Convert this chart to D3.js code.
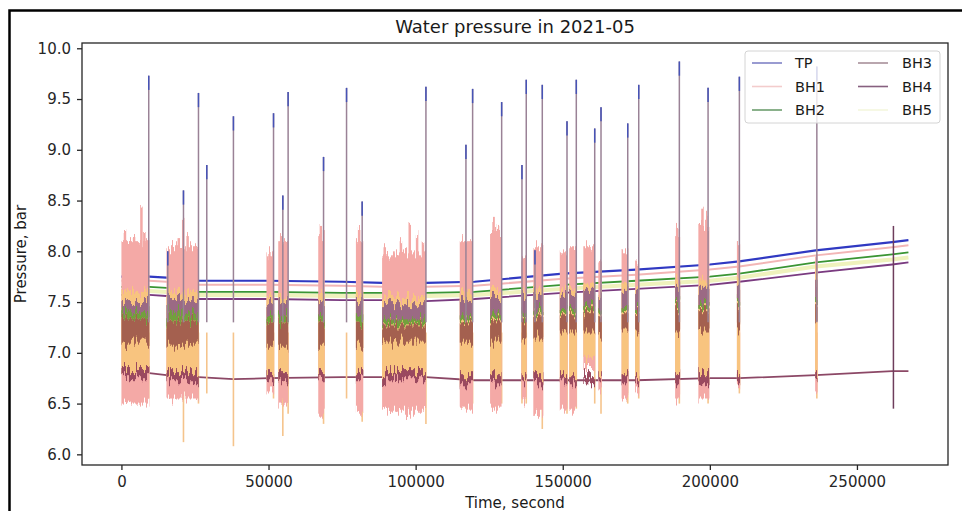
<!DOCTYPE html>
<html>
<head>
<meta charset="utf-8">
<title>Water pressure in 2021-05</title>
<style>
  body { margin: 0; background: #fff; }
  text { font-family: "DejaVu Sans", sans-serif; fill: #1a1a1a; }
  .axis path, .axis line { stroke: #262626; stroke-width: 1.3px; }
  .axis text { font-size: 15px; fill: #262626; }
</style>
</head>
<body>
<div id="chart"></div>
<script src="https://cdn.jsdelivr.net/npm/d3@7"></script>
<script>
// steady-state levels (seconds, bar)
const baseT   = [0, 9500, 15300, 26300, 38000, 50000, 75000, 88600, 103500, 120000, 150000, 175000, 200000, 210000, 236000, 262000, 267500];
const tpBase  = [7.75, 7.75, 7.74, 7.71, 7.71, 7.71, 7.70, 7.69, 7.69, 7.70, 7.78, 7.82, 7.87, 7.90, 8.01, 8.09, 8.11];
const bh1Base = [7.71, 7.71, 7.70, 7.67, 7.67, 7.67, 7.66, 7.65, 7.65, 7.66, 7.73, 7.77, 7.82, 7.85, 7.96, 8.04, 8.06];
const bh2Base = [7.65, 7.65, 7.64, 7.60, 7.60, 7.60, 7.59, 7.59, 7.59, 7.60, 7.67, 7.71, 7.75, 7.78, 7.89, 7.97, 7.99];
const bh5Base = [7.61, 7.61, 7.60, 7.57, 7.57, 7.57, 7.56, 7.56, 7.56, 7.57, 7.63, 7.67, 7.71, 7.74, 7.85, 7.92, 7.94];
const bh4Base = [7.57, 7.57, 7.56, 7.53, 7.53, 7.53, 7.52, 7.52, 7.51, 7.53, 7.59, 7.63, 7.67, 7.70, 7.79, 7.87, 7.89];
const bh3Base = [6.81, 6.80, 6.78, 6.76, 6.74, 6.75, 6.76, 6.76, 6.76, 6.73, 6.73, 6.73, 6.75, 6.75, 6.78, 6.82, 6.82];

// pumping bursts: start / end time and the band each sensor swings through
const burstStart = [0, 15300, 49300, 53300, 66900, 79700, 88600, 115000, 125300, 136000, 140000, 149000, 152200, 157000, 162100, 170000, 174600, 188200, 196100, 209200, 235800];
const burstEnd   = [9500, 26300, 51900, 56700, 69100, 82200, 103500, 119500, 129200, 137700, 143400, 151600, 154800, 161000, 163300, 172300, 176000, 189900, 199850, 210300, 236600];
const bh1Hi = [8.1, 8.05, 8.0, 8.1, 8.15, 8.1, 7.98, 8.1, 8.2, 7.95, 8.05, 7.98, 8.05, 8.05, 7.9, 8.0, 7.85, 8.15, 8.25, 8.1, 7.95];
const bh1Lo = [6.5, 6.55, 6.6, 6.5, 6.42, 6.42, 6.42, 6.45, 6.45, 6.55, 6.38, 6.45, 6.45, 6.85, 6.62, 6.55, 6.62, 6.55, 6.55, 6.68, 6.62];
const bh5Hi = [7.62, 7.6, 7.55, 7.55, 7.6, 7.6, 7.55, 7.6, 7.62, 7.62, 7.65, 7.65, 7.65, 7.68, 7.6, 7.7, 7.65, 7.72, 7.72, 7.75, 7.85];
const bh5Lo = [6.78, 6.75, 6.72, 6.72, 6.74, 6.74, 6.78, 6.72, 6.72, 6.72, 6.7, 6.72, 6.72, 6.95, 6.72, 6.76, 6.72, 6.72, 6.72, 6.72, 6.76];
const tpHi  = [7.34, 7.32, 7.3, 7.3, 7.3, 7.3, 7.28, 7.3, 7.32, 7.34, 7.36, 7.38, 7.38, 7.4, 7.36, 7.4, 7.4, 7.42, 7.42, 7.44, 7.5];
const tpLo  = [7.1, 7.08, 7.06, 7.06, 7.06, 7.06, 7.12, 7.08, 7.1, 7.14, 7.17, 7.19, 7.19, 7.21, 7.17, 7.21, 7.21, 7.21, 7.21, 7.24, 7.3];
const bh4Hi = [7.52, 7.52, 7.5, 7.5, 7.52, 7.52, 7.48, 7.52, 7.54, 7.57, 7.57, 7.6, 7.6, 7.62, 7.57, 7.62, 7.62, 7.64, 7.64, 7.67, 7.72];
const bh4Lo = [7.34, 7.34, 7.32, 7.32, 7.32, 7.32, 7.31, 7.33, 7.35, 7.37, 7.39, 7.41, 7.41, 7.43, 7.39, 7.43, 7.43, 7.45, 7.45, 7.47, 7.52];
const bh2Hi = [7.41, 7.39, 7.37, 7.37, 7.37, 7.37, 7.33, 7.37, 7.39, 7.41, 7.43, 7.45, 7.45, 7.47, 7.43, 7.47, 7.47, 7.49, 7.49, 7.51, 7.57];
const bh2Lo = [7.34, 7.32, 7.3, 7.3, 7.3, 7.3, 7.29, 7.32, 7.34, 7.36, 7.38, 7.4, 7.4, 7.42, 7.38, 7.42, 7.42, 7.44, 7.44, 7.46, 7.52];
const bh3Hi = [6.85, 6.82, 6.8, 6.81, 6.81, 6.8, 6.82, 6.79, 6.79, 6.77, 6.78, 6.77, 6.77, 6.78, 6.76, 6.78, 6.76, 6.8, 6.81, 6.8, 6.81];
const bh3Lo = [6.77, 6.73, 6.71, 6.72, 6.72, 6.72, 6.73, 6.7, 6.7, 6.71, 6.69, 6.7, 6.7, 6.7, 6.71, 6.7, 6.71, 6.7, 6.71, 6.72, 6.75];

// short pink peaks sticking out of the bursts
const peakT = [1200, 2600, 4300, 6800, 7800, 17500, 19500, 21000, 22500, 24200, 50300, 54300, 67800, 80800, 89500, 92500, 95000, 98000, 100500, 102500, 126500, 128000, 188900, 197500, 198800];
const peakV = [8.2, 8.1, 8.15, 8.45, 8.2, 8.05, 8.13, 8.3, 8.15, 8.02, 8.05, 8.15, 8.25, 8.22, 8.05, 8.0, 8.1, 8.3, 8.15, 8.1, 8.3, 8.25, 8.25, 8.4, 8.35];

// pressure transients: time, top and bottom of the vertical excursion
const spikeT   = [9280, 15750, 21090, 26190, 29010, 38070, 51700, 54860, 56660, 68700, 76520, 81830, 103500, 117100, 119370, 129240, 136140, 137600, 140560, 143050, 151450, 154610, 160870, 163010, 172090, 175830, 189640, 199400, 210040, 236370];
const spikeTop = [9.73, 8.0, 8.6, 9.56, 8.85, 9.33, 9.36, 8.55, 9.57, 8.93, 9.61, 8.49, 9.62, 9.05, 9.6, 9.47, 8.85, 9.69, 8.01, 9.64, 9.28, 9.69, 9.21, 9.42, 9.26, 9.64, 9.87, 9.61, 9.72, 9.82];
const spikeLow = [6.55, 6.6, 6.12, 6.5, 6.6, 6.08, 6.55, 6.18, 6.4, 6.3, 6.55, 6.32, 6.3, 6.45, 6.5, 6.5, 6.5, 6.5, 6.55, 6.25, 6.4, 6.45, 6.5, 6.4, 6.5, 6.55, 6.5, 6.5, 6.6, 6.55];

// single step near the end of the record
const stepT = [262400];
const stepHi = [8.25];
const stepLo = [6.45];

const xTicks = [0, 50000, 100000, 150000, 200000, 250000];
const yTicks = [6.0, 6.5, 7.0, 7.5, 8.0, 8.5, 9.0, 9.5, 10.0];

const seriesNames = ["TP", "BH1", "BH2", "BH3", "BH4", "BH5"];
const legendColors = ["#7f82c6", "#f3cccc", "#6d9e6e", "#a8909a", "#87607f", "#f4f7de"];

const width = 962, height = 511;
const plot = { left: 82, right: 948, top: 43, bottom: 465 };

const svg = d3.select("#chart").append("svg")
    .attr("width", width)
    .attr("height", height);

// jitter filter: makes the flat burst bands look like noisy sensor traces
const defs = svg.append("defs");
const rough = defs.append("filter").attr("id", "rough")
    .attr("x", "-2%").attr("y", "-10%").attr("width", "104%").attr("height", "120%");
rough.append("feTurbulence")
    .attr("type", "fractalNoise").attr("baseFrequency", "0.5 0.025")
    .attr("numOctaves", 2).attr("seed", 7).attr("result", "noise");
const ct = rough.append("feComponentTransfer").attr("in", "noise").attr("result", "noiseY");
ct.append("feFuncR").attr("type", "linear").attr("slope", 0).attr("intercept", 0.5);
rough.append("feDisplacementMap")
    .attr("in", "SourceGraphic").attr("in2", "noiseY")
    .attr("scale", 26).attr("xChannelSelector", "R").attr("yChannelSelector", "G");

// outer frame (only the top and left edges fall inside the picture)
svg.append("path")
    .attr("d", `M9.5,${height} V10.5 H${width}`)
    .attr("fill", "none")
    .attr("stroke", "#000")
    .attr("stroke-width", 2.5);

const x = d3.scaleLinear().domain([-13400, 280950]).range([plot.left, plot.right]);
const y = d3.scaleLinear().domain([5.895, 10.052]).range([plot.bottom, plot.top]);

const g = svg.append("g");
defs.append("clipPath").attr("id", "clip")
  .append("rect")
    .attr("x", plot.left).attr("y", plot.top)
    .attr("width", plot.right - plot.left).attr("height", plot.bottom - plot.top);
const data = g.append("g").attr("clip-path", "url(#clip)");

// steady lines
const line = d3.line().x(d => x(d[0])).y(d => y(d[1]));
const steady = [
  { v: bh5Base, color: "#eff2bd", w: 4 },
  { v: bh3Base, color: "#8c4866", w: 1.8 },
  { v: bh4Base, color: "#7a3b80", w: 1.8 },
  { v: bh2Base, color: "#3a9534", w: 1.8 },
  { v: bh1Base, color: "#f2b6b6", w: 2 },
  { v: tpBase,  color: "#3039c2", w: 2.2 }
];
steady.forEach(s => {
  data.append("path")
      .datum(baseT.map((t, i) => [t, s.v[i]]))
      .attr("d", line)
      .attr("fill", "none")
      .attr("stroke", s.color)
      .attr("stroke-width", s.w);
});

// dips of the transients (drawn under the bands)
spikeT.forEach((t, i) => {
  data.append("line")
      .attr("x1", x(t)).attr("x2", x(t))
      .attr("y1", y(spikeLow[i])).attr("y2", y(7.2))
      .attr("stroke", "#f5c48c").attr("stroke-width", 1.6);
});

// bursts
const bands = [
  { hi: bh1Hi, lo: bh1Lo, color: "#f4a9a6" },
  { hi: bh5Hi, lo: bh5Lo, color: "#f8c47f" },
  { hi: tpHi,  lo: tpLo,  color: "#a4614f" },
  { hi: bh4Hi, lo: bh4Lo, color: "#9b6a84" },
  { hi: bh2Hi, lo: bh2Lo, color: "#72a03c" },
  { hi: bh3Hi, lo: bh3Lo, color: "#9a4a5f" }
];
const burstLayer = data.append("g").attr("filter", "url(#rough)");
peakT.forEach((t, i) => {
  burstLayer.append("line")
      .attr("x1", x(t)).attr("x2", x(t))
      .attr("y1", y(peakV[i])).attr("y2", y(7.9))
      .attr("stroke", "#f4a9a6").attr("stroke-width", 2.5);
});
bands.forEach(b => {
  burstLayer.append("g").selectAll("rect")
    .data(burstStart)
    .join("rect")
      .attr("x", (d, i) => x(d))
      .attr("width", (d, i) => Math.max(2, x(burstEnd[i]) - x(d)))
      .attr("y", (d, i) => y(b.hi[i]))
      .attr("height", (d, i) => y(b.lo[i]) - y(b.hi[i]))
      .attr("fill", b.color);
});

// transients going up
spikeT.forEach((t, i) => {
  data.append("line")
      .attr("x1", x(t)).attr("x2", x(t))
      .attr("y1", y(7.3)).attr("y2", y(spikeTop[i]))
      .attr("stroke", "#9a8296").attr("stroke-width", 1.5);
  data.append("line")
      .attr("x1", x(t)).attr("x2", x(t))
      .attr("y1", y(spikeTop[i] - 0.14)).attr("y2", y(spikeTop[i]))
      .attr("stroke", "#4653b6").attr("stroke-width", 1.5);
});
stepT.forEach((t, i) => {
  data.append("line")
      .attr("x1", x(t)).attr("x2", x(t))
      .attr("y1", y(stepLo[i])).attr("y2", y(stepHi[i]))
      .attr("stroke", "#6e3d5c").attr("stroke-width", 1.5);
});

// axes
const yAxis = g.append("g")
    .attr("class", "axis")
    .attr("transform", `translate(${plot.left},0)`)
    .call(d3.axisLeft(y).tickValues(yTicks).tickFormat(d3.format(".1f")).tickSize(5).tickPadding(6));
const xAxis = g.append("g")
    .attr("class", "axis")
    .attr("transform", `translate(0,${plot.bottom})`)
    .call(d3.axisBottom(x).tickValues(xTicks).tickFormat(d3.format("d")).tickSize(5).tickPadding(6));
yAxis.select(".domain").remove();
xAxis.select(".domain").remove();
g.append("rect")
    .attr("x", plot.left).attr("y", plot.top)
    .attr("width", plot.right - plot.left).attr("height", plot.bottom - plot.top)
    .attr("fill", "none").attr("stroke", "#262626").attr("stroke-width", 1.3);

// titles
svg.append("text")
    .attr("x", (plot.left + plot.right) / 2).attr("y", 33)
    .attr("text-anchor", "middle")
    .style("font-size", "18px")
    .text("Water pressure in 2021-05");
svg.append("text")
    .attr("x", (plot.left + plot.right) / 2).attr("y", 508)
    .attr("text-anchor", "middle")
    .style("font-size", "15px")
    .text("Time, second");
svg.append("text")
    .attr("transform", `translate(26,${(plot.top + plot.bottom) / 2}) rotate(-90)`)
    .attr("text-anchor", "middle")
    .style("font-size", "15px")
    .text("Pressure, bar");

// legend
const legend = svg.append("g").attr("transform", "translate(745,51)");
legend.append("rect")
    .attr("width", 195).attr("height", 72).attr("rx", 3)
    .attr("fill", "#fff").attr("fill-opacity", 0.8)
    .attr("stroke", "#d4d4d4");
seriesNames.forEach((name, i) => {
  const col = Math.floor(i / 3), row = i % 3;
  const item = legend.append("g")
      .attr("transform", `translate(${7 + col * 106},${12 + row * 23.5})`);
  item.append("line")
      .attr("x1", 0).attr("x2", 30)
      .attr("stroke", legendColors[i]).attr("stroke-width", 1.6);
  item.append("text")
      .attr("x", col ? 44 : 43).attr("dy", "0.35em")
      .style("font-size", "14.5px")
      .text(name);
});
</script>
</body>
</html>
